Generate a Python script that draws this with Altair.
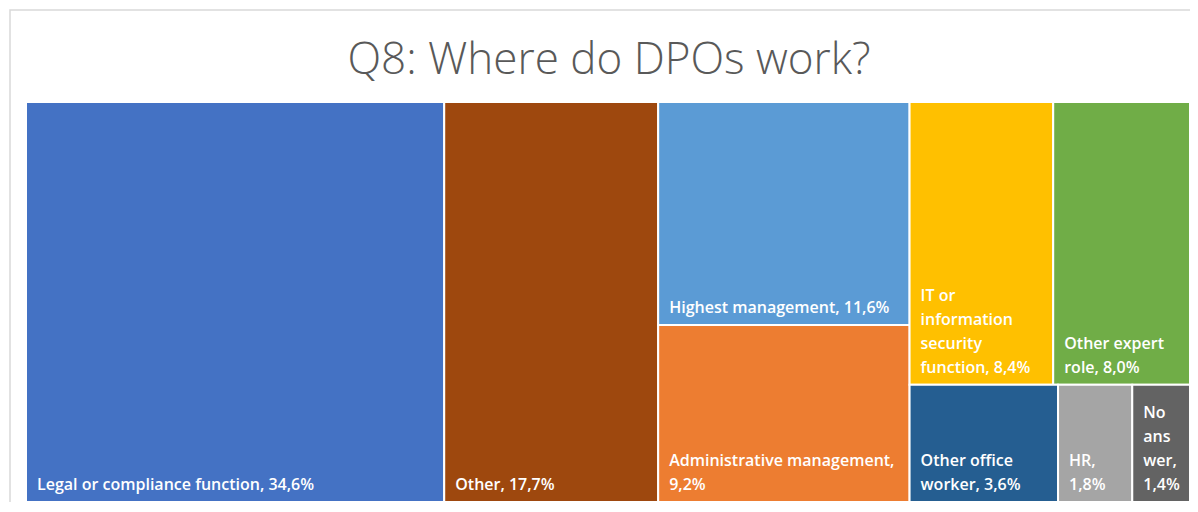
import altair as alt
import pandas as pd

# ---- data ----
title_text = "Q8: Where do DPOs work?"
categories = ["Legal or compliance function", "Other", "Highest management",
              "Administrative management", "IT or information security function",
              "Other expert role", "Other office worker", "HR", "No answer"]
values = [34.6, 17.7, 11.6, 9.2, 8.4, 8.0, 3.6, 1.8, 1.4]
labels = ["Legal or compliance function, 34,6%", "Other, 17,7%", "Highest management, 11,6%",
          "Administrative management,\n9,2%", "IT or\ninformation\nsecurity\nfunction, 8,4%",
          "Other expert\nrole, 8,0%", "Other office\nworker, 3,6%", "HR,\n1,8%", "No\nans\nwer,\n1,4%"]
colors = ["#4472C4", "#9E480E", "#5B9BD5", "#ED7D31", "#FFC000",
          "#70AD47", "#255E91", "#A5A5A5", "#636363"]
# treemap grouping (column, row within column) as Excel arranged it
col_of = [0, 1, 2, 2, 3, 3, 3, 3, 3]
row_of = [0, 0, 0, 1, 0, 0, 1, 1, 1]

W, H = 1164, 400
LINE_H = 24  # px between label lines

# ---- slice-and-dice layout computed from the values ----
total = sum(values)
rows = []
line_rows = []
x_cursor = 0.0
for c in sorted(set(col_of)):
    idx_c = [i for i in range(len(values)) if col_of[i] == c]
    csum = sum(values[i] for i in idx_c)
    cw = csum
    y_top = 1.0
    for r in sorted(set(row_of[i] for i in idx_c)):
        idx_r = [i for i in idx_c if row_of[i] == r]
        rsum = sum(values[i] for i in idx_r)
        rh = rsum / csum
        xi = x_cursor
        for i in idx_r:
            w = cw * values[i] / rsum
            y0 = y_top - rh
            rows.append(dict(cat=categories[i], value=values[i],
                             x0=xi, x1=xi + w, y0=y0, y1=y_top))
            parts = labels[i].split("\n")
            n = len(parts)
            for k, t in enumerate(parts):
                line_rows.append(dict(cat=categories[i], line=t, lx=xi,
                                      ly=y0 + (n - 1 - k) * LINE_H / H))
            xi += w
        y_top -= rh
    x_cursor += cw

df = pd.DataFrame(rows)
df_lines = pd.DataFrame(line_rows)

xs = alt.Scale(domain=[0, total], nice=False, zero=True)
ys = alt.Scale(domain=[0, 1], nice=False)
color = alt.Color("cat:N", scale=alt.Scale(domain=categories, range=colors), legend=None)

tiles = alt.Chart(df).mark_rect(stroke="white", strokeWidth=2).encode(
    x=alt.X("x0:Q", scale=xs, axis=None),
    x2="x1:Q",
    y=alt.Y("y0:Q", scale=ys, axis=None),
    y2="y1:Q",
    color=color,
    tooltip=["cat:N", "value:Q"],
)
text = alt.Chart(df_lines).mark_text(align="left", baseline="alphabetic", dx=11, dy=-12,
                                     font="Open Sans", fontSize=16, fontWeight=600,
                                     color="white").encode(
    x=alt.X("lx:Q", scale=xs),
    y=alt.Y("ly:Q", scale=ys),
    text="line:N",
)
one = alt.Data(values=[{"t": title_text}])
frame = alt.Chart(one).mark_rect(
    fillOpacity=0, stroke="#d9d9d9", strokeWidth=1.5, clip=False
).encode(x=alt.value(-16), x2=alt.value(1230), y=alt.value(-92), y2=alt.value(440))
title = alt.Chart(one).mark_text(font="Open Sans", fontSize=44, fontWeight=300,
                                 color="#595959", align="center",
                                 baseline="alphabetic").encode(
    x=alt.value(583), y=alt.value(-28), text="t:N")

chart = alt.layer(frame, tiles, text, title).properties(
    width=W, height=H,
    autosize=alt.AutoSizeParams(type="none"),
    padding={"left": 18, "top": 94, "right": 0, "bottom": 0},
).configure_view(stroke=None).configure(background="white")

chart.save("out.html", embed_options={"renderer": "svg", "actions": False})
